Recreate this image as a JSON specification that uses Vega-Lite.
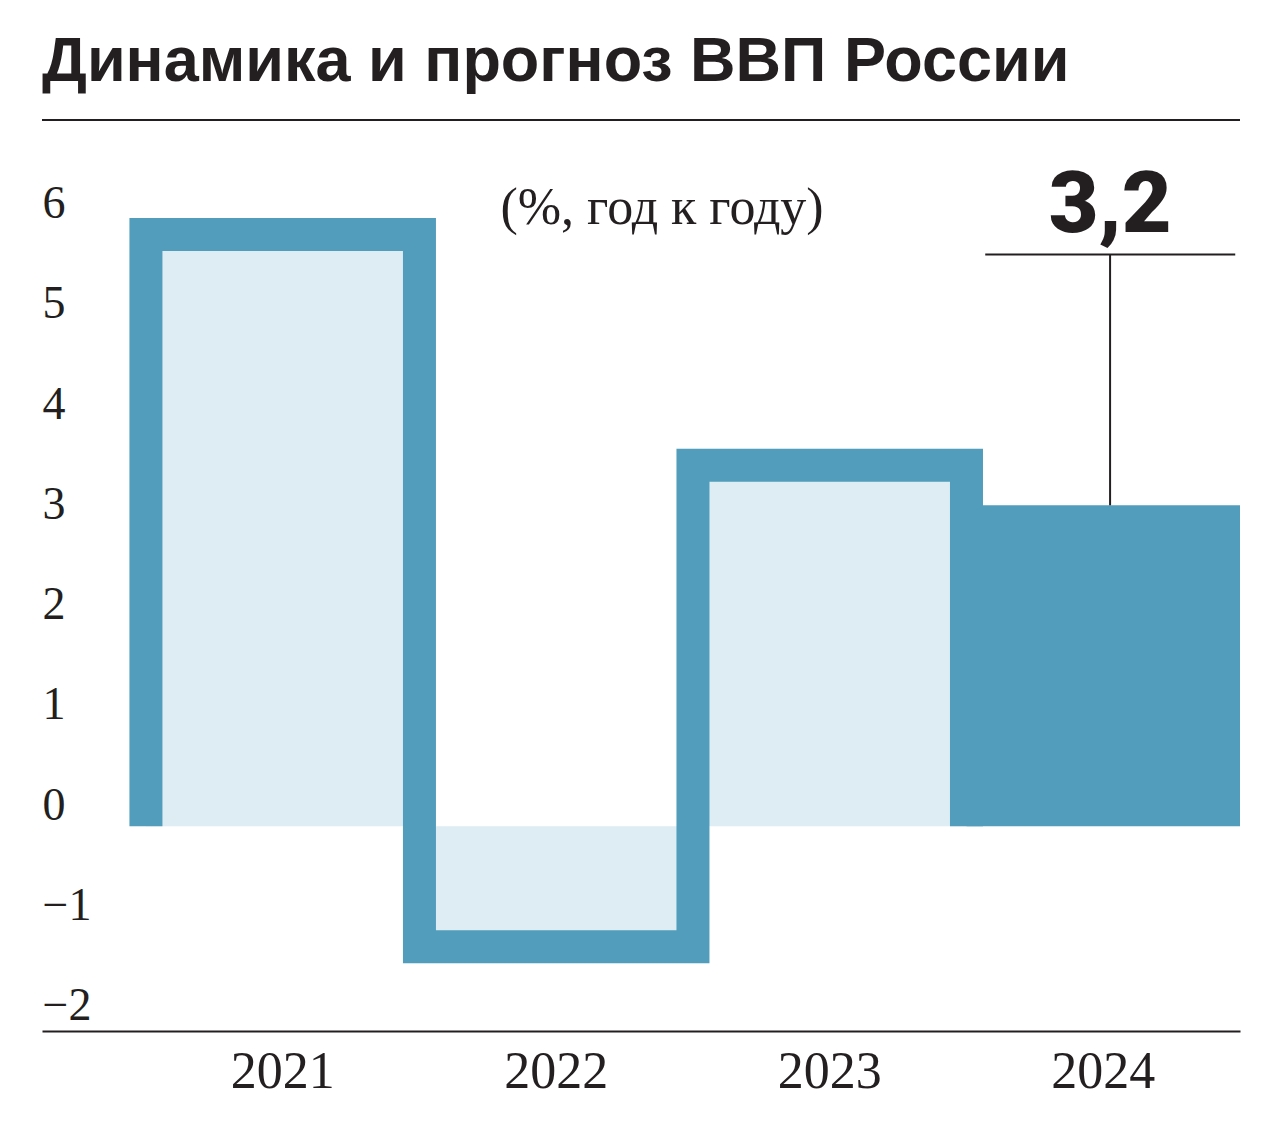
{
  "$schema": "https://vega.github.io/schema/vega-lite/v6.json",
  "width": 1198,
  "height": 911,
  "autosize": {"type": "none"},
  "padding": {"left": 42, "top": 120, "right": 40, "bottom": 100},
  "background": "white",
  "config": {
    "view": {"stroke": null},
    "locale": {"number": {"decimal": ",", "thousands": "\u00a0", "grouping": [3], "currency": ["", " ₽"], "minus": "\u2212"}}
  },
  "title": {
    "text": "Динамика и прогноз ВВП России",
    "anchor": "start",
    "frame": "group",
    "font": "Liberation Sans",
    "fontSize": 63,
    "fontWeight": "bold",
    "color": "#231f20",
    "baseline": "alphabetic",
    "offset": -25
  },
  "datasets": {
    "gdp": [
      {"year": "2021", "value": 5.9, "kind": "факт"},
      {"year": "2022", "value": -1.2, "kind": "факт"},
      {"year": "2023", "value": 3.6, "kind": "факт"},
      {"year": "2024", "value": 3.2, "kind": "прогноз"}
    ],
    "outline": [
      {"year": "2021", "value": 0, "step": 0},
      {"year": "2021", "value": 5.9, "step": 1},
      {"year": "2022", "value": -1.2, "step": 2},
      {"year": "2023", "value": 3.6, "step": 3},
      {"year": "2024", "value": 0, "step": 4}
    ]
  },
  "layer": [
    {
      "data": {"name": "gdp"},
      "transform": [{"filter": "datum.kind === 'факт'"}],
      "mark": {"type": "bar", "fill": "#deecf3", "stroke": null},
      "encoding": {
        "x": {
          "field": "year", "type": "ordinal",
          "scale": {"paddingInner": 0, "paddingOuter": 0.19, "align": 1, "round": false},
          "axis": {
            "title": null, "labelAngle": 0, "ticks": false, "tickSize": 0,
            "domainColor": "#231f20", "domainWidth": 2,
            "labelFont": "Liberation Serif", "labelFontSize": 52, "labelColor": "#231f20",
            "labelBaseline": "alphabetic", "labelPadding": 56
          }
        },
        "y": {
          "field": "value", "type": "quantitative",
          "scale": {"domain": [-2.04, 7.04], "nice": false, "zero": false},
          "axis": {
            "title": null, "values": [-2, -1, 0, 1, 2, 3, 4, 5, 6], "format": "d",
            "domain": false, "ticks": false, "tickSize": 0, "grid": false,
            "labelAlign": "left", "labelPadding": 0, "labelBaseline": "alphabetic", "labelOffset": -7,
            "labelFont": "Liberation Serif", "labelFontSize": 46, "labelColor": "#231f20"
          }
        }
      }
    },
    {
      "data": {"name": "gdp"},
      "transform": [{"filter": "datum.kind === 'прогноз'"}],
      "mark": {"type": "bar", "fill": "#529dbc", "stroke": null},
      "encoding": {
        "x": {"field": "year", "type": "ordinal"},
        "y": {"field": "value", "type": "quantitative"}
      }
    },
    {
      "data": {"name": "outline"},
      "mark": {"type": "line", "interpolate": "step-after", "strokeWidth": 33, "strokeJoin": "miter", "strokeCap": "butt", "color": "#529dbc"},
      "encoding": {
        "x": {"field": "year", "type": "ordinal", "bandPosition": 0},
        "y": {"field": "value", "type": "quantitative"},
        "order": {"field": "step"}
      }
    },
    {
      "data": {"name": "gdp"},
      "transform": [{"filter": "datum.kind === 'прогноз'"}],
      "mark": {"type": "rule", "strokeWidth": 2, "color": "#231f20"},
      "encoding": {
        "x": {"field": "year", "type": "ordinal", "bandPosition": 0.525},
        "y": {"field": "value", "type": "quantitative"},
        "y2": {"datum": 5.7}
      }
    },
    {
      "data": {"name": "gdp"},
      "transform": [{"filter": "datum.kind === 'прогноз'"}],
      "mark": {"type": "tick", "orient": "horizontal", "size": 250, "thickness": 2, "color": "#231f20", "opacity": 1, "xOffset": 7},
      "encoding": {
        "x": {"field": "year", "type": "ordinal"},
        "y": {"datum": 5.7, "type": "quantitative"}
      }
    },
    {
      "data": {"name": "gdp"},
      "transform": [{"filter": "datum.kind === 'прогноз'"}],
      "mark": {"type": "text", "font": "Roboto", "fontWeight": 900, "fontSize": 86, "color": "#231f20", "align": "center", "baseline": "alphabetic", "dy": -22},
      "encoding": {
        "x": {"field": "year", "type": "ordinal", "bandPosition": 0.525},
        "y": {"datum": 5.7, "type": "quantitative"},
        "text": {"field": "value", "type": "quantitative", "format": ".1f"}
      }
    },
    {
      "data": {"values": [{}]},
      "mark": {"type": "text", "text": "(%, год к году)", "font": "Liberation Serif", "fontSize": 52, "color": "#231f20", "align": "center", "baseline": "alphabetic"},
      "encoding": {
        "x": {"datum": "2022", "type": "ordinal", "bandPosition": 0.887},
        "y": {"datum": 6.0, "type": "quantitative"}
      }
    },
    {
      "data": {"values": [{}]},
      "mark": {"type": "rule", "strokeWidth": 2, "color": "#231f20"},
      "encoding": {
        "y": {"datum": 7.04, "type": "quantitative"}
      }
    }
  ]
}
